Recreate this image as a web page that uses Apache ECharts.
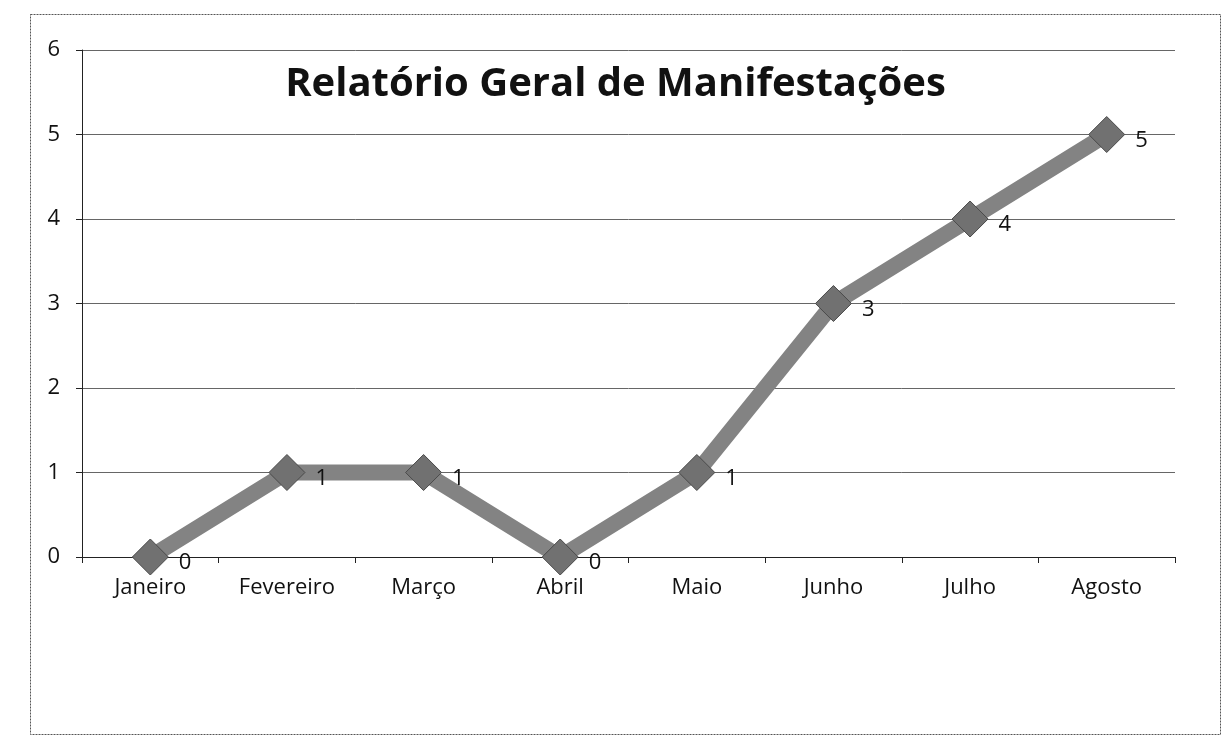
<!DOCTYPE html>
<html><head><meta charset="utf-8">
<script src="https://cdn.jsdelivr.net/npm/echarts@6/dist/echarts.min.js"></script>
<style>html,body{margin:0;padding:0;background:#fff;}#c{width:1231px;height:747px;}</style>
</head><body><div id="c"></div>
<script>
const categories = ["Janeiro","Fevereiro","Março","Abril","Maio","Junho","Julho","Agosto"];
const values = [0, 1, 1, 0, 1, 3, 4, 5];
const yTicks = [0, 1, 2, 3, 4, 5, 6];
const titleText = "Relatório Geral de Manifestações";

const chart = echarts.init(document.getElementById('c'));
chart.setOption({
  backgroundColor: '#ffffff',
  animation: false,
  title: {
    text: titleText, left: 'center', top: 60,
    textStyle: {fontFamily: 'Open Sans', fontWeight: 'bold', fontSize: 40, color: '#111'}
  },
  graphic: [{
    type: 'rect', left: 28, top: 12,
    shape: {width: 1190, height: 720},
    style: {fill: 'none', stroke: '#555', lineWidth: 1, lineDash: [2, 1]},
    silent: true, z: -1
  }],
  grid: {left: 82, right: 56, top: 50, bottom: 190},
  xAxis: {
    type: 'category', data: categories, boundaryGap: true,
    axisLine: {show: true, lineStyle: {color: '#222', width: 1}},
    axisTick: {show: true, length: 6, lineStyle: {color: '#222'}},
    axisLabel: {fontFamily: 'Open Sans', fontSize: 22, color: '#111', margin: 20}
  },
  yAxis: {
    type: 'value', min: 0, max: 6, interval: 1,
    axisLine: {show: true, lineStyle: {color: '#222', width: 1}},
    axisTick: {show: true, length: 6, lineStyle: {color: '#222'}},
    axisLabel: {fontFamily: 'Open Sans', fontSize: 22, color: '#111', margin: 22},
    splitLine: {show: true, lineStyle: {color: '#666', width: 1}}
  },
  series: [{
    type: 'line', data: values,
    lineStyle: {color: '#838383', width: 16},
    symbol: 'diamond', symbolSize: 36,
    itemStyle: {color: '#717171', borderColor: '#4a4a4a', borderWidth: 1},
    label: {show: true, position: 'right', distance: 10, offset: [0, 6], fontFamily: 'Open Sans', fontSize: 22, color: '#111'},
    z: 3
  }]
});
</script></body></html>
